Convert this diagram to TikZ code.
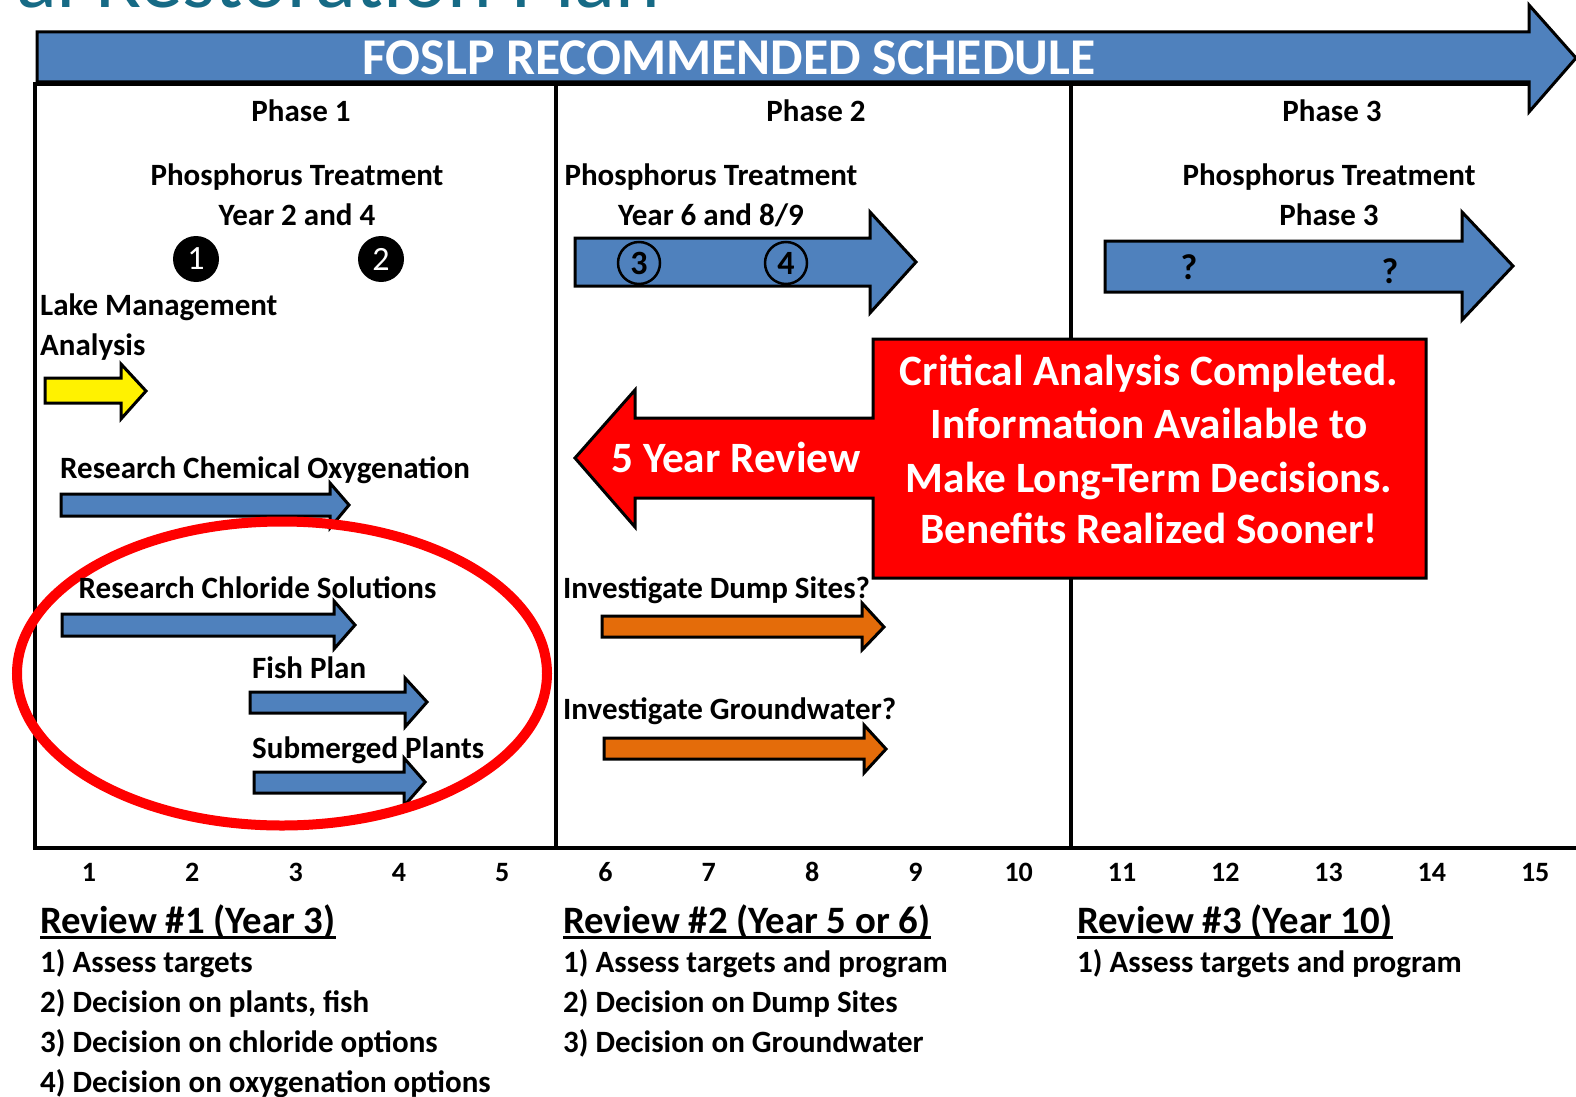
\documentclass[tikz,border=0pt]{standalone}
\usepackage{fontspec}
\setmainfont{Carlito}
\definecolor{obl}{HTML}{4F81BD}
\definecolor{oor}{HTML}{E46C0A}
\definecolor{tealt}{RGB}{22,106,133}
\tikzset{
  outl/.style={draw=black, line width=3pt, line join=miter},
  framel/.style={draw=black, line width=4pt},
  lbl/.style={inner sep=0pt, anchor=base west, font=\fontsize{31}{36}\selectfont\bfseries},
  clbl/.style={inner sep=0pt, anchor=base, font=\fontsize{31}{36}\selectfont\bfseries},
  numl/.style={inner sep=0pt, anchor=base, font=\fontsize{28}{34}\selectfont\bfseries},
  revh/.style={inner sep=0pt, anchor=base west, font=\fontsize{38.8}{44}\selectfont\bfseries},
  wlbl/.style={inner sep=0pt, anchor=base, text=white, font=\fontsize{43.3}{50}\selectfont\bfseries},
  blackdot/.style={circle, fill=black, minimum size=46pt, inner sep=0pt, text=white, font=\fontsize{34}{40}\selectfont},
  opendot/.style={circle, draw=black, line width=2.5pt, minimum size=42pt, inner sep=0pt, font=\fontsize{34}{40}\selectfont\bfseries},
  qmark/.style={inner sep=0pt, font=\fontsize{36}{40}\selectfont\bfseries},
}
\newcommand\blockarr[9]{%
  \draw[outl,fill=#1] (#2,#3) -- (#5,#3) -- (#5,#6) -- (#8,#9) -- (#5,#7) -- (#5,#4) -- (#2,#4) -- cycle;}
\begin{document}
\begin{tikzpicture}[x=1pt,y=-1pt]
\useasboundingbox (0,0) rectangle (1576,1097);
\fill[white] (0,0) rectangle (1576,1097);
% title fragment (cut off at the top edge, as in the reference)
\node[anchor=base west, inner sep=0pt, text=tealt, font=\fontsize{85}{90}\selectfont] (title) at (16,8) {al Restoration Plan};
% frame
\draw[framel] (35,84) -- (1529,84);
\draw[framel] (35,82) -- (35,848) -- (1576,848);
\draw[framel] (556,84) -- (556,848);
\draw[framel] (1071,84) -- (1071,848);
% big schedule arrow
\blockarr{obl}{37}{32}{82}{1529}{5}{112}{1576}{58}
\node[inner sep=0pt, anchor=base, text=white, font=\fontsize{51.6}{56}\selectfont\bfseries] (head) at (729,75) {FOSLP RECOMMENDED SCHEDULE};
% phase labels
\node[clbl] (ph1) at (301,122) {Phase 1};
\node[clbl] (ph2) at (816,122) {Phase 2};
\node[clbl] (ph3) at (1332,122) {Phase 3};
% phase 1
\node[clbl] (pt1) at (297,185.5) {Phosphorus Treatment};
\node[clbl] (yr1) at (297,225.5) {Year 2 and 4};
\node[blackdot] (c1) at (196,259) {1};
\node[blackdot] (c2) at (381,259) {2};
\node[lbl] (lm1) at (40,315) {Lake Management};
\node[lbl] (lm2) at (40,355) {Analysis};
\blockarr{yellow}{45}{378}{403}{121}{364}{419}{146}{391}
\node[lbl] (rco) at (60,478) {Research Chemical Oxygenation};
\blockarr{obl}{61}{494}{516}{330}{483}{528}{349}{505}
\blockarr{obl}{62}{614}{636}{334}{601}{649}{355}{625}
\blockarr{obl}{250}{692}{713}{405}{678}{727}{427}{702}
\blockarr{obl}{254}{772}{793}{404}{758}{806}{425}{782}
\draw[red, line width=10pt] (282,673.5) ellipse [x radius=265, y radius=152];
\node[lbl] (rcs) at (78.5,598) {Research Chloride Solutions};
\node[lbl] (fp) at (252,678) {Fish Plan};
\node[lbl] (sp) at (252,758) {Submerged Plants};
% phase 2
\node[clbl] (pt2) at (711,185.5) {Phosphorus Treatment};
\node[clbl] (yr2) at (711,225.5) {Year 6 and 8/9};
\blockarr{obl}{575}{238}{286}{870}{212}{313}{916}{262}
\node[opendot] (c3) at (639,263) {3};
\node[opendot] (c4) at (786,263) {4};
\node[lbl] (ids) at (563,598) {Investigate Dump Sites?};
\blockarr{oor}{602}{616}{637}{862}{603}{650}{884}{627}
\node[lbl] (igw) at (563,719) {Investigate Groundwater?};
\blockarr{oor}{604}{738}{759}{864}{725}{773}{886}{749}
% phase 3
\node[clbl] (pt3) at (1329,185.5) {Phosphorus Treatment};
\node[clbl] (yr3) at (1329,225.5) {Phase 3};
\blockarr{obl}{1105}{241}{292}{1462}{212}{320}{1513}{266}
\node[qmark] (q1) at (1189,267) {?};
\node[qmark] (q2) at (1390,271) {?};
% callout
\draw[outl, fill=red] (873,339) -- (1426,339) -- (1426,578) -- (873,578) -- (873,498) -- (635,498) -- (635,527) -- (575,458) -- (635,390) -- (635,418) -- (873,418) -- cycle;
\node[wlbl] (fyr) at (736,472) {5 Year Review};
\node[wlbl] (co1) at (1149,385) {Critical Analysis Completed.};
\node[wlbl] (co2) at (1149,438) {Information Available to};
\node[wlbl] (co3) at (1149,492) {Make Long-Term Decisions.};
\node[wlbl] (co4) at (1149,543) {Benefits Realized Sooner!};
% year numbers
\foreach \i in {1,...,15} {
  \node[numl] (yn\i) at ({89+(\i-1)*103.3},881.5) {\i};
}
% reviews
\node[revh] (r1) at (40,933) {Review \#1 (Year 3)};
\node[revh] (r2) at (563,933) {Review \#2 (Year 5 or 6)};
\node[revh] (r3) at (1077,933) {Review \#3 (Year 10)};
\foreach \r in {r1,r2,r3} {
  \draw[line width=2.5pt] ([yshift=-4.5pt]\r.base west) -- ([yshift=-4.5pt]\r.base east);
}
\node[lbl] (a1) at (40,972) {1) Assess targets};
\node[lbl] (a2) at (40,1012) {2) Decision on plants, fish};
\node[lbl] (a3) at (40,1052) {3) Decision on chloride options};
\node[lbl] (a4) at (40,1092) {4) Decision on oxygenation options};
\node[lbl] (b1) at (563,972) {1) Assess targets and program};
\node[lbl] (b2) at (563,1012) {2) Decision on Dump Sites};
\node[lbl] (b3) at (563,1052) {3) Decision on Groundwater};
\node[lbl] (d1) at (1077,972) {1) Assess targets and program};
\end{tikzpicture}
\end{document}
